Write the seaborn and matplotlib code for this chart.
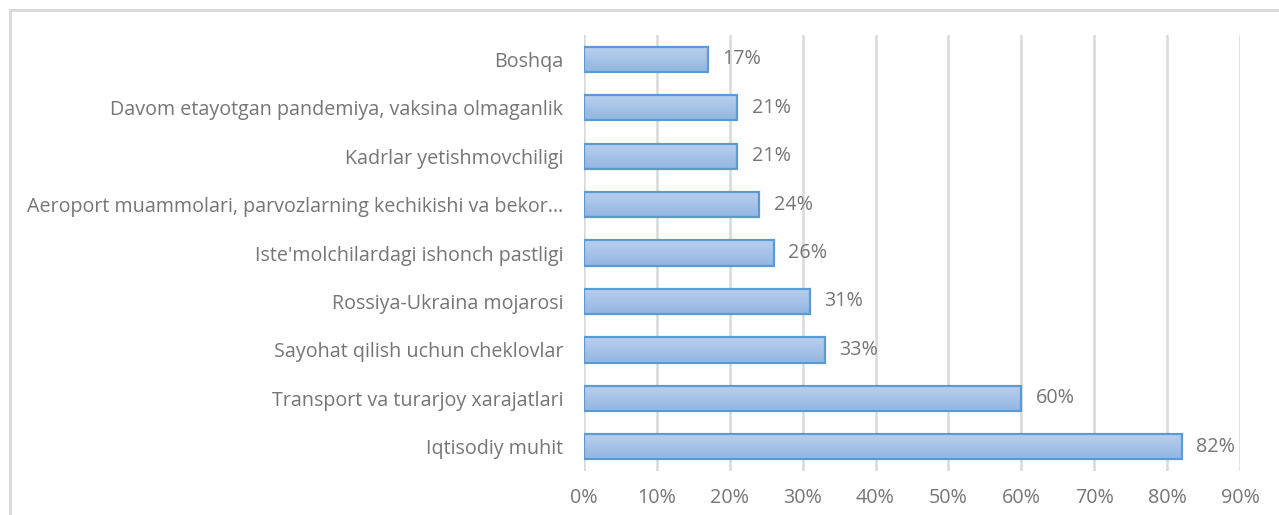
import matplotlib
matplotlib.use("Agg")
import matplotlib.pyplot as plt
import matplotlib.lines as mlines
import numpy as np
import pandas as pd
import seaborn as sns

categories = [
    "Boshqa",
    "Davom etayotgan pandemiya, vaksina olmaganlik",
    "Kadrlar yetishmovchiligi",
    "Aeroport muammolari, parvozlarning kechikishi va bekor\u2026",
    "Iste'molchilardagi ishonch pastligi",
    "Rossiya-Ukraina mojarosi",
    "Sayohat qilish uchun cheklovlar",
    "Transport va turarjoy xarajatlari",
    "Iqtisodiy muhit",
]
values = [17, 21, 21, 24, 26, 31, 33, 60, 82]
xticks = [0, 10, 20, 30, 40, 50, 60, 70, 80, 90]

df = pd.DataFrame({"category": categories, "value": np.array(values) / 100.0})

sns.set_theme(style="white")
plt.rcParams["font.family"] = ["Open Sans", "DejaVu Sans"]

TEXT = "#767676"
FS = 14.2

fig = plt.figure(figsize=(12.79, 5.15), dpi=100)
ax = fig.add_axes([0.4566, 0.0854, 0.9695 - 0.4566, 0.932 - 0.0854])

sns.barplot(data=df, x="value", y="category", orient="h", ax=ax,
            color="#a9c4e8", edgecolor="#5b9bd5", linewidth=1.6,
            width=0.52, saturation=1, zorder=3)

ax.set_xlim(0, 0.9)
ax.set_ylim(len(categories) - 0.5, -0.5)

# vertical gradient inside each bar
grad = np.linspace(0, 1, 64).reshape(-1, 1)
cmap = matplotlib.colors.LinearSegmentedColormap.from_list(
    "barfill", ["#b9d0ee", "#94b6e2"])
for patch in ax.patches:
    x0, y0 = patch.get_x(), patch.get_y()
    w, h = patch.get_width(), patch.get_height()
    im = ax.imshow(grad, cmap=cmap, aspect="auto", zorder=3.5,
                   extent=(x0, x0 + w, y0 + h, y0), interpolation="bilinear")
    im.set_clip_path(patch)
    patch.set_facecolor("none")
    patch.set_zorder(4)
ax.set_xlim(0, 0.9)
ax.set_ylim(len(categories) - 0.5, -0.5)

# value labels
for i, v in enumerate(values):
    ax.text(v / 100.0 + 0.02, i, f"{v}%", va="center", ha="left",
            fontsize=FS, color=TEXT, zorder=5)

ax.set_xticks([t / 100.0 for t in xticks])
ax.set_xticklabels([f"{t}%" for t in xticks], fontsize=FS, color=TEXT)
ax.tick_params(axis="y", labelsize=FS, labelcolor=TEXT, pad=15, length=0)
ax.tick_params(axis="x", pad=12, length=0)
ax.set_xlabel("")
ax.set_ylabel("")
ax.grid(axis="x", color="#d9d9d9", linewidth=1.8, zorder=0)
ax.set_axisbelow(True)
for s in ax.spines.values():
    s.set_visible(False)

# chart area frame (top and left edges)
W, H = 1279, 515
fig.add_artist(mlines.Line2D([10 / W, 1], [1 - 10 / H, 1 - 10 / H],
                             color="#d9d9d9", linewidth=2))
fig.add_artist(mlines.Line2D([10 / W, 10 / W], [0, 1 - 10 / H],
                             color="#d9d9d9", linewidth=2))

fig.savefig("out.png", dpi=100, facecolor="white")
